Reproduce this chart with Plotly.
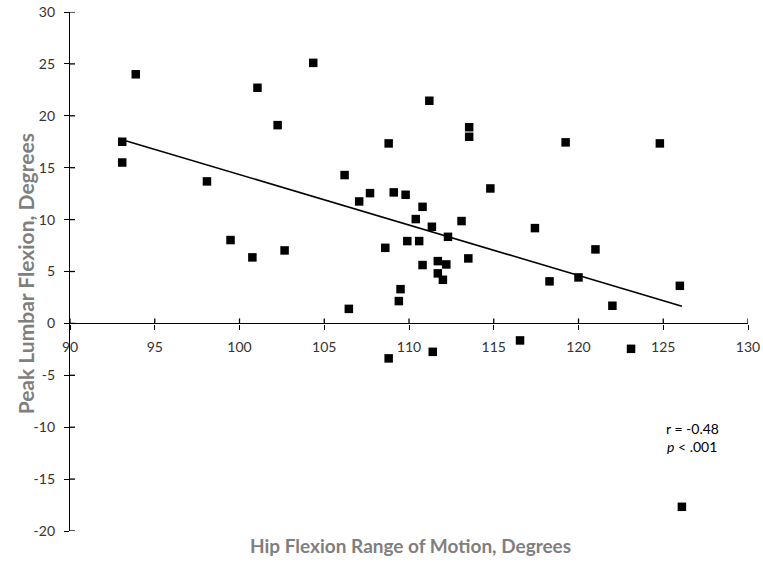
import numpy as np
import plotly.graph_objects as go

hip_rom = [93.88, 93.08, 93.08, 98.08, 101.06, 102.25, 104.35, 99.47, 100.76, 102.66,
           106.2, 106.45, 107.06, 107.7, 108.8, 108.6, 108.8, 109.1, 109.5, 109.4,
           109.8, 109.9, 110.4, 110.6, 110.8, 110.8, 111.35, 111.2, 111.4, 111.7,
           111.7, 112.0, 112.2, 112.3, 113.1, 113.55, 113.55, 113.5, 114.8, 116.55,
           117.43, 118.29, 119.24, 120.0, 121.0, 122.0, 123.1, 124.8, 125.98, 126.1]
lumbar_flex = [24.0, 17.5, 15.5, 13.68, 22.7, 19.1, 25.1, 8.03, 6.36, 7.03,
               14.29, 1.4, 11.75, 12.55, 17.34, 7.28, -3.37, 12.62, 3.3, 2.15,
               12.39, 7.93, 10.05, 7.93, 11.23, 5.62, 9.31, 21.45, -2.74, 6.0,
               4.82, 4.2, 5.68, 8.34, 9.86, 18.9, 17.98, 6.26, 13.0, -1.64,
               9.18, 4.05, 17.44, 4.43, 7.13, 1.7, -2.45, 17.34, 3.62, -17.67]

x_ticks = [90, 95, 100, 105, 110, 115, 120, 125, 130]
y_ticks = [30, 25, 20, 15, 10, 5, 0, -5, -10, -15, -20]
y_ticktext = [str(v) for v in y_ticks]  # ASCII hyphen minus like the original

x_arr = np.array(hip_rom)
y_arr = np.array(lumbar_flex)
slope, intercept = np.polyfit(x_arr, y_arr, 1)
trend_x = [float(x_arr.min()), float(x_arr.max())]
trend_y = [slope * v + intercept for v in trend_x]

FONT = "Lato, 'Open Sans', sans-serif"
GRAY = "#7f7f7f"
TICK = "#333333"
X_MIN, Y_MIN = x_ticks[0], y_ticks[-1]

fig = go.Figure()
fig.add_trace(go.Scatter(x=trend_x, y=trend_y, mode="lines",
                         line=dict(color="black", width=1.6), hoverinfo="skip",
                         showlegend=False))
fig.add_trace(go.Scatter(x=hip_rom, y=lumbar_flex, mode="markers",
                         marker=dict(symbol="square", size=8.5, color="black"),
                         showlegend=False))

y_zero_pos = (0 - Y_MIN) / (y_ticks[0] - Y_MIN)

# inner half of the crossing tick marks (outer half comes from the axes)
tick_shapes = []
for xv in x_ticks:
    tick_shapes.append(dict(type="line", xref="x", yref="y", ysizemode="pixel", yanchor=0,
                            x0=xv, x1=xv, y0=0, y1=5,
                            line=dict(color="black", width=1.3)))
for yv in y_ticks:
    tick_shapes.append(dict(type="line", xref="x", yref="y", xsizemode="pixel", xanchor=X_MIN,
                            x0=0, x1=5, y0=yv, y1=yv,
                            line=dict(color="black", width=1.3)))

fig.update_layout(
    width=763, height=562,
    margin=dict(l=70, r=15, t=12, b=31, autoexpand=False),
    paper_bgcolor="white", plot_bgcolor="white",
    font=dict(family=FONT, size=14, color=TICK),
    xaxis=dict(range=[90, 130], tickvals=x_ticks, showgrid=False, zeroline=False,
               showline=True, linecolor="black", linewidth=1.3,
               ticks="outside", ticklen=5, tickcolor="black", tickwidth=1.3,
               anchor="free", position=y_zero_pos, ticklabelstandoff=6,
               automargin=False,
               tickfont=dict(family=FONT, size=14, color=TICK)),
    yaxis=dict(range=[-20, 30], tickvals=y_ticks, ticktext=y_ticktext,
               showgrid=False, zeroline=False,
               showline=True, linecolor="black", linewidth=1.3,
               ticks="outside", ticklen=5, tickcolor="black", tickwidth=1.3,
               ticklabelstandoff=6, automargin=False,
               tickfont=dict(family=FONT, size=14, color=TICK)),
    shapes=tick_shapes,
    annotations=[
        dict(text="<b>Hip Flexion Range of Motion, Degrees</b>", xref="paper", yref="paper",
             x=0.5015, y=-0.027, xanchor="center", yanchor="middle", showarrow=False,
             font=dict(family=FONT, size=19, color=GRAY)),
        dict(text="<b>Peak Lumbar Flexion, Degrees</b>", xref="paper", yref="paper",
             x=-0.066, y=0.495, xanchor="center", yanchor="middle", showarrow=False,
             textangle=-90, font=dict(family=FONT, size=21, color=GRAY)),
        dict(text="r = -0.48", xref="x", yref="y", x=126.75, y=-10.17,
             xanchor="center", yanchor="middle", showarrow=False,
             font=dict(family=FONT, size=14, color="black")),
        dict(text="<i>p</i> < .001", xref="x", yref="y", x=126.7, y=-11.9,
             xanchor="center", yanchor="middle", showarrow=False,
             font=dict(family=FONT, size=14, color="black")),
    ],
)

fig.write_html("out.html", config={"displayModeBar": False},
               post_script="document.body.style.margin='0';document.body.style.overflow='hidden';")
